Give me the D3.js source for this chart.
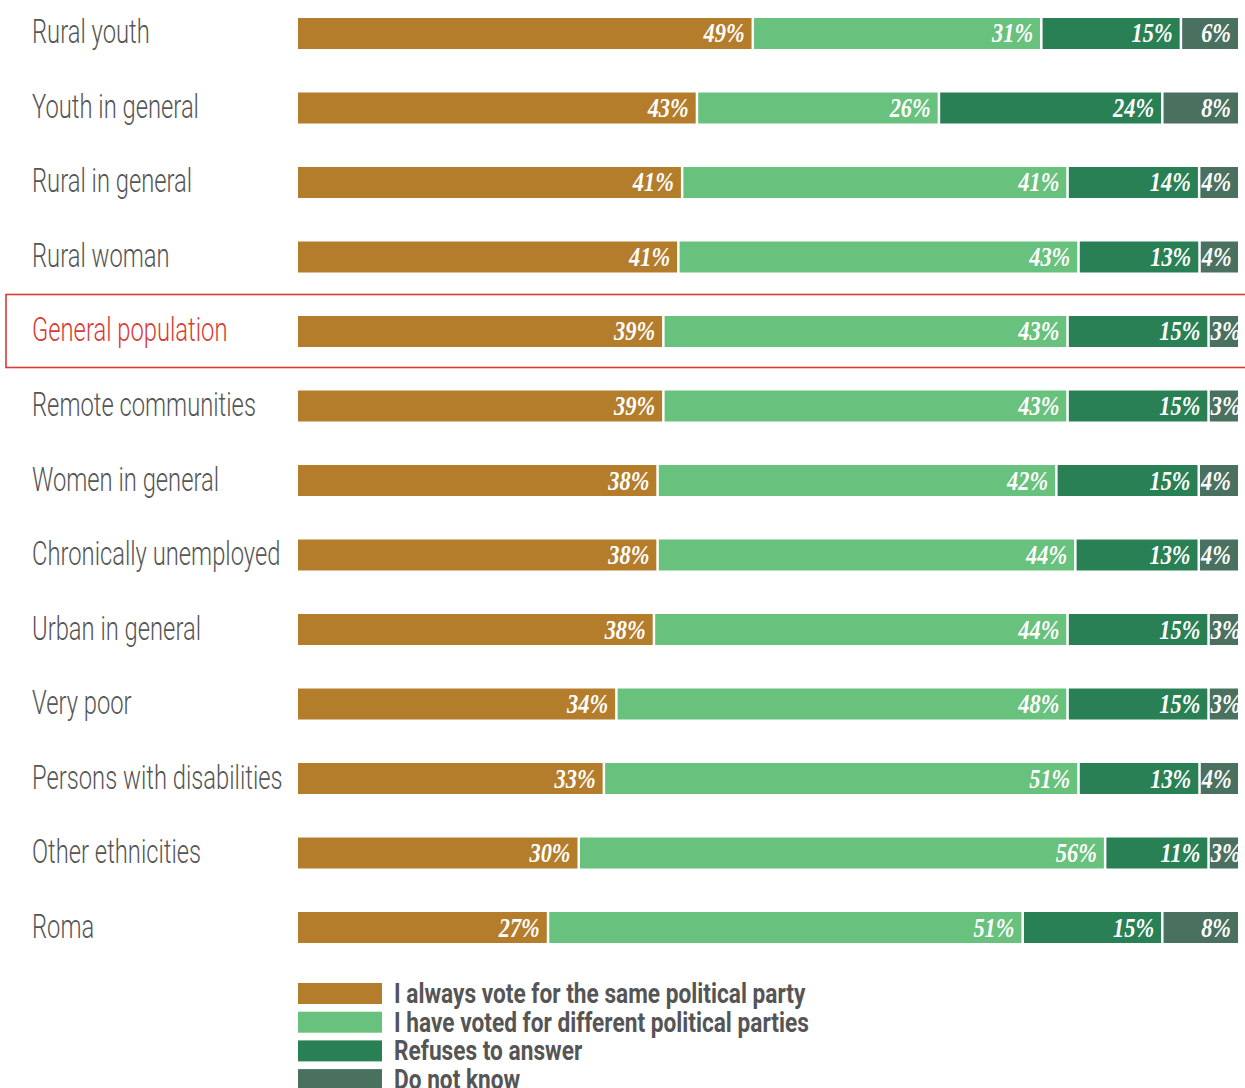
<!DOCTYPE html>
<html>

<head>
  <script src="https://d3js.org/d3.v7.min.js"></script>
  <style>
    body {
      margin: 0;
      background: #fff;
    }

    .cat {
      font-family: Roboto, sans-serif;
      font-weight: 300;
      font-size: 33px;
      fill: #555;
    }

    .val {
      font-family: "Liberation Serif", serif;
      font-style: italic;
      font-weight: bold;
      font-size: 28px;
      fill: #fff;
    }

    .leg {
      font-family: Roboto, sans-serif;
      font-weight: bold;
      font-size: 27px;
      fill: #555;
    }
  </style>
</head>

<body>
  <script>
    const width = 1245;
    const height = 1088;

    // categories, top to bottom
    const categories = [
      "Rural youth", "Youth in general", "Rural in general", "Rural woman",
      "General population", "Remote communities", "Women in general",
      "Chronically unemployed", "Urban in general", "Very poor",
      "Persons with disabilities", "Other ethnicities", "Roma"
    ];

    const seriesNames = [
      "I always vote for the same political party",
      "I have voted for different political parties",
      "Refuses to answer",
      "Do not know"
    ];

    // values in %, one per category
    const sameParty = [49, 43, 41, 41, 39, 39, 38, 38, 38, 34, 33, 30, 27];
    const differentParties = [31, 26, 41, 43, 43, 43, 42, 44, 44, 48, 51, 56, 51];
    const refuses = [15, 24, 14, 13, 15, 15, 15, 13, 15, 15, 13, 11, 15];
    const dontKnow = [6, 8, 4, 4, 3, 3, 4, 4, 3, 3, 4, 3, 8];

    const colors = ["#b37d2c", "#68c17c", "#2a8055", "#4a7060"];
    const highlight = "General population";

    const rows = categories.map((c, i) => ({
      category: c,
      s0: sameParty[i],
      s1: differentParties[i],
      s2: refuses[i],
      s3: dontKnow[i]
    }));
    const keys = ["s0", "s1", "s2", "s3"];

    // each bar is scaled to 100%
    const stack = d3.stack().keys(keys).offset(d3.stackOffsetExpand);
    const series = stack(rows);

    const svg = d3.select("body")
      .append("svg")
      .attr("width", width)
      .attr("height", height);

    const x = d3.scaleLinear().domain([0, 1]).range([298, 1238]);
    const y = d3.scaleBand()
      .domain(categories)
      .range([18, 943])
      .paddingInner(0.584)
      .paddingOuter(0);

    // highlight box
    const hy = y(highlight) + y.bandwidth() / 2;
    svg.append("rect")
      .attr("x", 6)
      .attr("y", hy - 37)
      .attr("width", width + 10)
      .attr("height", 73)
      .attr("fill", "none")
      .attr("stroke", "#d93a33")
      .attr("stroke-width", 1.6);

    // category labels
    svg.selectAll("text.cat")
      .data(categories)
      .join("text")
      .attr("class", "cat")
      .attr("transform", d => `translate(32,${y(d) + y.bandwidth() / 2 + 10}) scale(0.72,1)`)
      .style("fill", d => d === highlight ? "#d93a33" : null)
      .text(d => d);

    const defs = svg.append("defs");

    const groups = svg.selectAll("g.series")
      .data(series)
      .join("g")
      .attr("class", "series")
      .attr("fill", (d, i) => colors[i]);

    const sx = 0.8;

    groups.each(function (s, si) {
      const g = d3.select(this);
      s.forEach((d, ri) => {
        const x0 = x(d[0]);
        const x1 = x(d[1]);
        const w = x1 - x0 - (si < 3 ? 2.5 : 0);
        const yy = y(d.data.category);
        const id = `clip-${si}-${ri}`;
        defs.append("clipPath").attr("id", id)
          .append("rect")
          .attr("x", x0).attr("y", yy)
          .attr("width", w).attr("height", y.bandwidth());

        g.append("rect")
          .attr("x", x0)
          .attr("y", yy)
          .attr("width", w)
          .attr("height", y.bandwidth());

        const val = d.data[keys[si]];
        const cl = g.append("g").attr("clip-path", `url(#${id})`);
        const ty = yy + y.bandwidth() / 2 + 9;
        const t = cl.append("text")
          .attr("class", "val")
          .attr("text-anchor", "end")
          .attr("transform", `translate(${x0 + w - 7},${ty}) scale(${sx},1)`)
          .text(val + "%");
        const tw = t.node().getComputedTextLength() * sx;
        if (tw + 10 > w) {
          t.attr("text-anchor", "start")
            .attr("transform", `translate(${x0 + 1},${ty}) scale(${sx},1)`);
        }
      });
    });

    // legend
    const legend = svg.append("g")
      .selectAll("g")
      .data(seriesNames)
      .join("g")
      .attr("transform", (d, i) => `translate(298,${983 + i * 28.7})`);

    legend.append("rect")
      .attr("width", 84)
      .attr("height", 21)
      .attr("fill", (d, i) => colors[i]);

    legend.append("text")
      .attr("class", "leg")
      .attr("transform", "translate(96,20) scale(0.84,1)")
      .text(d => d);
  </script>
</body>

</html>
